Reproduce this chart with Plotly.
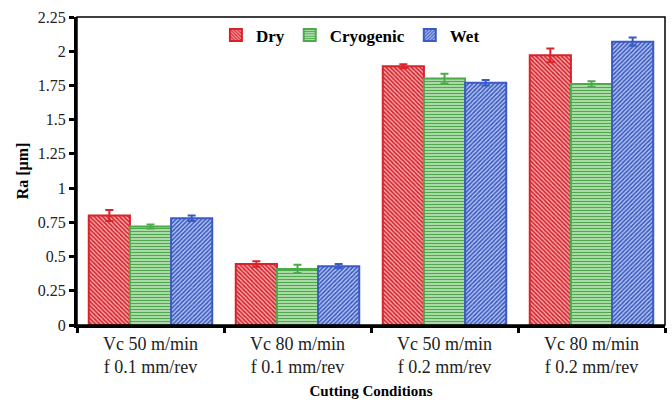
import plotly.graph_objects as go

categories = ["Vc 50 m/min<br>f 0.1 mm/rev", "Vc 80 m/min<br>f 0.1 mm/rev",
              "Vc 50 m/min<br>f 0.2 mm/rev", "Vc 80 m/min<br>f 0.2 mm/rev"]
series_names = ["Dry", "Cryogenic", "Wet"]
dry = [0.80, 0.445, 1.89, 1.97]
dry_err = [0.04, 0.02, 0.015, 0.05]
cryo = [0.72, 0.41, 1.80, 1.76]
cryo_err = [0.015, 0.03, 0.035, 0.02]
wet = [0.78, 0.43, 1.77, 2.07]
wet_err = [0.02, 0.015, 0.02, 0.03]
y_ticks = [0, 0.25, 0.5, 0.75, 1, 1.25, 1.5, 1.75, 2, 2.25]
y_tick_text = ["0", "0.25", "0.5", "0.75", "1", "1.25", "1.5", "1.75", "2", "2.25"]

SERIF = "Liberation Serif"

styles = [
    dict(color="#D9232B", bg="#F2AEB1", shape="\\", size=3, sol=0.55),
    dict(color="#4DAA4A", bg="#BFE3BC", shape="-", size=3, sol=0.45),
    dict(color="#3A5BC4", bg="#BCC9EE", shape="/", size=3, sol=0.55),
]

fig = go.Figure()
for name, vals, errs, st in zip(series_names, [dry, cryo, wet], [dry_err, cryo_err, wet_err], styles):
    fig.add_trace(go.Bar(
        name=name, x=categories, y=vals,
        marker=dict(color=st["bg"], line=dict(color=st["color"], width=2),
                    pattern=dict(shape=st["shape"], fgcolor=st["color"], bgcolor=st["bg"],
                                 size=st["size"], solidity=st["sol"], fillmode="replace")),
        error_y=dict(type="data", array=errs, color=st["color"], thickness=2, width=4),
    ))

fig.update_layout(
    width=672, height=405,
    margin=dict(l=77, r=7, t=17, b=80),
    paper_bgcolor="white", plot_bgcolor="white",
    barmode="group", bargap=0.16, bargroupgap=0,
    font=dict(family=SERIF, size=16, color="#222"),
    legend=dict(orientation="h", x=0.465, xanchor="center", y=0.94, yanchor="middle",
                font=dict(family=SERIF, size=17, color="black", weight="bold"),
                bgcolor="rgba(0,0,0,0)", itemwidth=30, tracegroupgap=0),
    shapes=[dict(type="rect", xref="paper", yref="paper", x0=0, y0=0, x1=1, y1=1,
                 line=dict(color="black", width=1.5), layer="above")],
)
fig.update_yaxes(range=[0, 2.25], tickvals=y_ticks, ticktext=y_tick_text,
                 showgrid=False, zeroline=False,
                 showline=True, linecolor="black", linewidth=3,
                 ticks="outside", ticklen=5, tickwidth=3, tickcolor="black",
                 tickfont=dict(family=SERIF, size=16),
                 title=dict(text="Ra [μm]", font=dict(family=SERIF, size=16, color="black", weight="bold"), standoff=6))
fig.update_xaxes(showgrid=False, showline=True, linecolor="black", linewidth=3,
                 ticks="outside", tickson="boundaries", ticklen=5, tickwidth=3, tickcolor="black",
                 tickfont=dict(family=SERIF, size=18),
                 title=dict(text="Cutting Conditions", font=dict(family=SERIF, size=15, color="black", weight="bold"), standoff=10))

fig.write_html("out.html")
